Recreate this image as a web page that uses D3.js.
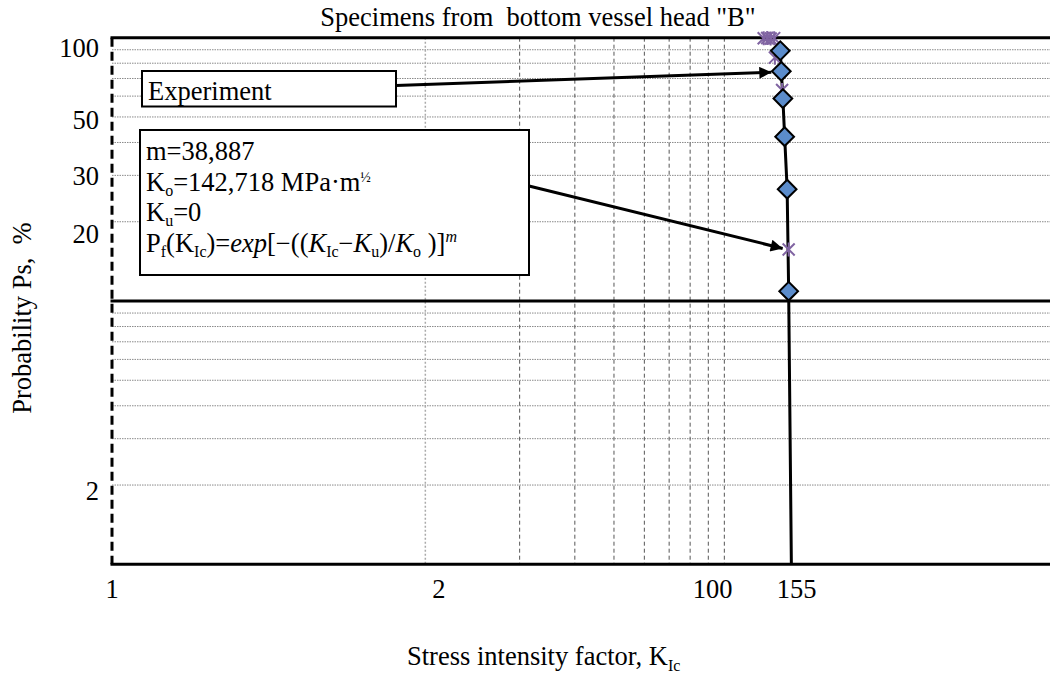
<!DOCTYPE html>
<html>
<head>
<meta charset="utf-8">
<script src="https://cdn.jsdelivr.net/npm/d3@7"></script>
<style>
  body { margin: 0; background: #fff; }
  svg text { font-family: "Liberation Serif", "Times New Roman", serif; fill: #000; }
</style>
</head>
<body>
<div id="chart"></div>
<script>
const diamondK = [135.8, 136.8, 138.4, 140.2, 142.8, 144.4];
const diamondP = [89.2, 74.5, 58.7, 42.1, 26.6, 10.9];
const starK = [120.2, 123.3, 126.5, 129.8, 130.5, 137.6, 144.4];
const starP = [99.5, 99.8, 99.3, 99.6, 84.0, 63.3, 15.7];
// Weibull fit line (through the diamonds, down to 1 %)
const lineK = [135.8, 136.8, 138.4, 140.2, 142.8, 144.4, 147.3];
const lineP = [89.2, 74.5, 58.7, 42.1, 26.6, 10.9, 1];

const xGrid = [10, 20, 30, 40, 50, 60, 70, 80, 90];
const yGrid = [2, 3, 4, 5, 6, 7, 8, 9, 20, 30, 40, 50, 60, 70, 80, 90];
const yMajor = [10, 100, 1];
// hand placed tick labels (as in the original)
const yTickText = ["100", "50", "30", "20", "2"];
const yTickAt = [92, 49, 29.8, 18, 1.9];
const xTickText = ["1", "2", "100", "155"];
const xTickAt = [1, 11.04, 82.6, 153];

const W = 1050, H = 678;
const pLeft = 112, pRight = 1052, pTop = 37.7, pBottom = 564.3;

const svg = d3.select("#chart").append("svg")
  .attr("width", W).attr("height", H);

const x = d3.scaleLog().domain([1, 1000]).range([pLeft, pRight]);
const y = d3.scaleLog().domain([1, 100]).range([pBottom, pTop]);

// grid
const grid = svg.append("g");
grid.selectAll("line.hg").data(yGrid).join("line")
  .attr("x1", pLeft).attr("x2", W)
  .attr("y1", d => y(d)).attr("y2", d => y(d))
  .attr("stroke", "#8a8a8a").attr("stroke-width", 1)
  .attr("stroke-dasharray", "1.5,1");
grid.selectAll("line.vg").data(xGrid).join("line")
  .attr("x1", d => x(d)).attr("x2", d => x(d))
  .attr("y1", pTop).attr("y2", pBottom)
  .attr("stroke", d => d === 10 ? "#aaa" : "#555")
  .attr("stroke-width", d => d === 10 ? 1.5 : 1)
  .attr("stroke-dasharray", d => d === 10 ? "2,2" : "4,3");

// thick horizontal lines at 1, 10, 100
svg.append("g").selectAll("line").data(yMajor).join("line")
  .attr("x1", pLeft - 1.5).attr("x2", W)
  .attr("y1", d => y(d)).attr("y2", d => y(d))
  .attr("stroke", "#000").attr("stroke-width", 3);

// dashed left axis
svg.append("line")
  .attr("x1", pLeft).attr("x2", pLeft)
  .attr("y1", pTop).attr("y2", pBottom)
  .attr("stroke", "#000").attr("stroke-width", 3)
  .attr("stroke-dasharray", "9,5");

// tick labels
svg.append("g").selectAll("text").data(yTickText).join("text")
  .attr("x", 99).attr("y", (d, i) => y(yTickAt[i]))
  .attr("dy", "0.35em").attr("text-anchor", "end")
  .attr("font-size", 26.5).text(d => d);
svg.append("g").selectAll("text").data(xTickText).join("text")
  .attr("x", (d, i) => x(xTickAt[i])).attr("y", 598)
  .attr("text-anchor", "middle")
  .attr("font-size", 26.5).text(d => d);

// fit line
const pts = lineK.map((k, i) => [k, lineP[i]]);
svg.append("path")
  .attr("d", d3.line().x(d => x(d[0])).y(d => y(d[1]))(pts))
  .attr("fill", "none").attr("stroke", "#000").attr("stroke-width", 3);

// star markers
svg.append("g").selectAll("path").data(starK).join("path")
  .attr("transform", (d, i) => `translate(${x(d)},${y(starP[i])})`)
  .attr("d", "M-6,-6L6,6M-6,6L6,-6M0,-7L0,7")
  .attr("stroke", "#8064A2").attr("stroke-width", 2).attr("fill", "none");

// diamond markers
svg.append("g").selectAll("path").data(diamondK).join("path")
  .attr("transform", (d, i) => `translate(${x(d)},${y(diamondP[i])}) rotate(45)`)
  .attr("d", d3.symbol(d3.symbolSquare, 175))
  .attr("fill", "#5B8CCB").attr("stroke", "#000").attr("stroke-width", 2);

// arrow head
svg.append("defs").append("marker")
  .attr("id", "arr").attr("viewBox", "0 0 10 10")
  .attr("refX", 10).attr("refY", 5)
  .attr("markerWidth", 5).attr("markerHeight", 4)
  .attr("markerUnits", "strokeWidth").attr("orient", "auto")
  .append("path").attr("d", "M0,0L10,5L0,10Z").attr("fill", "#000");

// annotation boxes
const ann = svg.append("g");
ann.append("line")
  .attr("x1", 396).attr("y1", 85.5)
  .attr("x2", x(diamondK[1]) - 10).attr("y2", y(diamondP[1]) + 1)
  .attr("stroke", "#000").attr("stroke-width", 3).attr("marker-end", "url(#arr)");
ann.append("rect")
  .attr("x", 142).attr("y", 71).attr("width", 254).attr("height", 35.5)
  .attr("fill", "#fff").attr("stroke", "#000").attr("stroke-width", 2);
ann.append("text").attr("x", 148).attr("y", 100).attr("font-size", 26.5).text("Experiment");

ann.append("line")
  .attr("x1", 529).attr("y1", 186)
  .attr("x2", x(starK[6]) - 6).attr("y2", y(starP[6]) - 1)
  .attr("stroke", "#000").attr("stroke-width", 3).attr("marker-end", "url(#arr)");
ann.append("rect")
  .attr("x", 140).attr("y", 130).attr("width", 389).attr("height", 145)
  .attr("fill", "#fff").attr("stroke", "#000").attr("stroke-width", 2);

const fs = 26.5, sub = 16;
const t1 = ann.append("text").attr("x", 146).attr("y", 160).attr("font-size", fs);
t1.text("m=38,887");

const t2 = ann.append("text").attr("x", 146).attr("y", 191).attr("font-size", fs);
t2.append("tspan").text("K");
t2.append("tspan").attr("font-size", sub).attr("dy", 5).text("o");
t2.append("tspan").attr("dy", -5).text("=142,718 MPa·m");
t2.append("tspan").attr("font-size", 14).attr("dy", -9).text("½");

const t3 = ann.append("text").attr("x", 146).attr("y", 221).attr("font-size", fs);
t3.append("tspan").text("K");
t3.append("tspan").attr("font-size", sub).attr("dy", 5).text("u");
t3.append("tspan").attr("dy", -5).text("=0");

const t4 = ann.append("text").attr("x", 146).attr("y", 252).attr("font-size", fs);
const parts = [
  ["P", 0], ["f", 1], ["(K", 0], ["Ic", 1], [")=", 0], ["exp", 2], ["[−((", 0],
  ["K", 2], ["Ic", 1], ["−", 0], ["K", 2], ["u", 1], [")/", 0], ["K", 2], ["o", 1],
  [" )]", 0], ["m", 3]
];
let shift = 0;
parts.forEach(([s, kind]) => {
  const target = kind === 1 ? 5 : kind === 3 ? -10 : 0;
  const ts = t4.append("tspan").attr("dy", target - shift).text(s);
  if (kind === 1) ts.attr("font-size", sub);
  if (kind === 3) ts.attr("font-size", sub).attr("font-style", "italic");
  if (kind === 2) ts.attr("font-style", "italic");
  shift = target;
});

// titles
svg.append("text").attr("x", 538).attr("y", 26).attr("text-anchor", "middle")
  .attr("font-size", 26.5).attr("xml:space", "preserve")
  .text('Specimens from  bottom vessel head "B"');

const xt = svg.append("text").attr("x", 407).attr("y", 665).attr("font-size", 26.5);
xt.append("tspan").text("Stress intensity factor, K");
xt.append("tspan").attr("font-size", sub).attr("dy", 6).text("Ic");

svg.append("text")
  .attr("transform", "translate(31,318) rotate(-90)")
  .attr("text-anchor", "middle").attr("font-size", 26.5)
  .attr("xml:space", "preserve")
  .text("Probability Ps,  %");
</script>
</body>
</html>
